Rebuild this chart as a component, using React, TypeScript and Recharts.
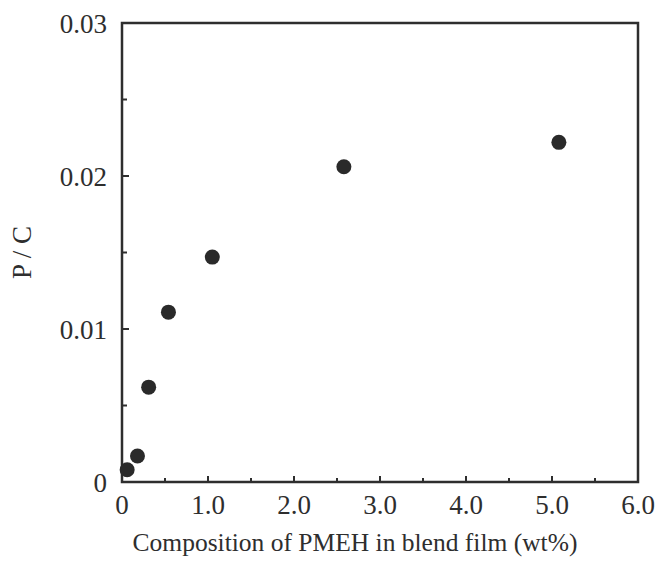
import { ScatterChart, Scatter, XAxis, YAxis, ReferenceArea } from 'recharts';

const pmeh = [0.06, 0.18, 0.31, 0.54, 1.05, 2.58, 5.08];
const pc = [0.0008, 0.0017, 0.0062, 0.0111, 0.0147, 0.0206, 0.0222];
const xTicks = [0, 0.5, 1, 1.5, 2, 2.5, 3, 3.5, 4, 4.5, 5, 5.5, 6];
const yTicks = [0, 0.005, 0.01, 0.015, 0.02, 0.025, 0.03];

const data = pmeh.map((x, i) => ({ x, y: pc[i] }));

const INK = '#2e2e2e';
const FONT = '"Liberation Serif", "DejaVu Serif", serif';

function XTick(props: any) {
  const { x, y, payload } = props;
  const v = payload.value as number;
  const major = Math.abs(v - Math.round(v)) < 1e-9;
  return (
    <g>
      {v > 0 && v < 6 && <line x1={x} y1={y} x2={x} y2={y - (major ? 6 : 4)} stroke={INK} strokeWidth={2} />}
      {major && (
        <text x={x} y={y + 32} textAnchor="middle" fontFamily={FONT} fontSize={27} fill={INK}>
          {v === 0 ? '0' : v.toFixed(1)}
        </text>
      )}
    </g>
  );
}

function YTick(props: any) {
  const { x, y, payload } = props;
  const v = payload.value as number;
  const major = Math.abs(v * 100 - Math.round(v * 100)) < 1e-9;
  return (
    <g>
      {v > 0 && v < 0.03 && <line x1={x} y1={y} x2={x + (major ? 7 : 5)} y2={y} stroke={INK} strokeWidth={2} />}
      {major && (
        <text x={x - 15} y={y + 10} textAnchor="end" fontFamily={FONT} fontSize={27} fill={INK}>
          {v === 0 ? '0' : v.toFixed(2)}
        </text>
      )}
    </g>
  );
}

export default function App() {
  return (
    <div style={{ position: 'absolute', left: 0, top: 0, background: '#fff' }}>
      <ScatterChart width={662} height={562} margin={{ top: 23, right: 24, left: 22, bottom: 0 }}>
        <XAxis
          type="number"
          dataKey="x"
          domain={[0, 6]}
          ticks={xTicks}
          interval={0}
          axisLine={false}
          tickLine={false}
          tickSize={0}
          tickMargin={0}
          tick={XTick}
          height={80}
          label={{
            content: ({ viewBox }: any) => (
              <text
                x={viewBox.x + viewBox.width / 2 - 25}
                y={viewBox.y + 69}
                textAnchor="middle"
                fontFamily={FONT}
                fontSize={25.5}
                fill={INK}
              >
                Composition of PMEH in blend film (wt%)
              </text>
            ),
          }}
        />
        <YAxis
          type="number"
          dataKey="y"
          domain={[0, 0.03]}
          ticks={yTicks}
          interval={0}
          axisLine={false}
          tickLine={false}
          tickSize={0}
          tickMargin={0}
          tick={YTick}
          width={100}
          label={{
            content: ({ viewBox }: any) => {
              const cx = viewBox.x;
              const cy = viewBox.y + viewBox.height / 2;
              return (
                <text
                  x={cx}
                  y={cy}
                  transform={`rotate(-90 ${cx} ${cy})`}
                  textAnchor="middle"
                  dominantBaseline="central"
                  fontFamily={FONT}
                  fontSize={27}
                  fill={INK}
                >
                  P / C
                </text>
              );
            },
          }}
        />
        <ReferenceArea x1={0} x2={6} y1={0} y2={0.03} fill="none" stroke={INK} strokeWidth={2.5} />
        <Scatter
          data={data}
          isAnimationActive={false}
          shape={(p: any) => <circle cx={p.cx} cy={p.cy} r={7.5} fill="#2a2a2a" />}
        />
      </ScatterChart>
    </div>
  );
}
